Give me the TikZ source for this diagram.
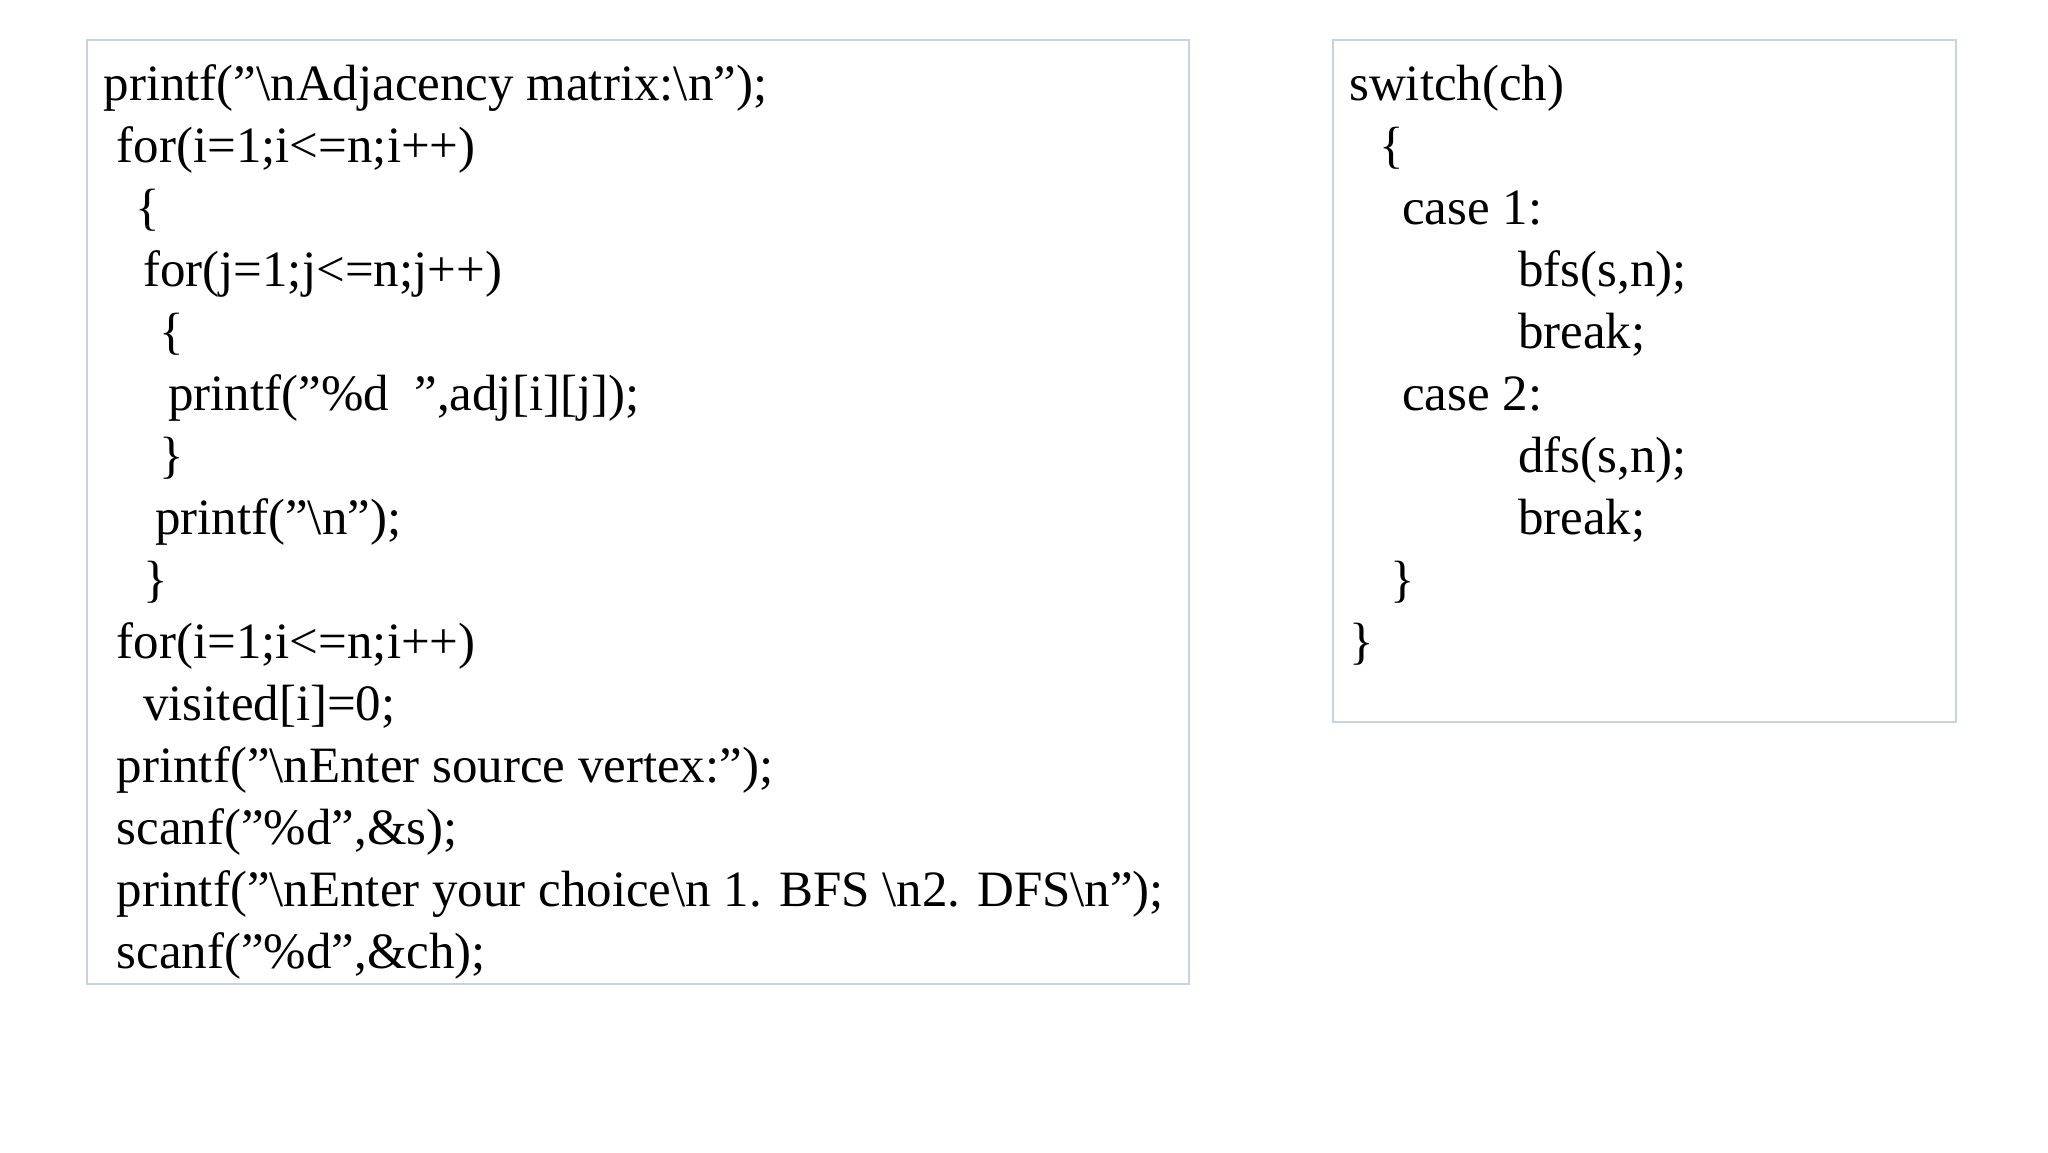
\documentclass[tikz,border=0pt]{standalone}
\usepackage{fontspec}
\setmainfont{Liberation Serif}
\definecolor{boxc}{RGB}{200,210,225}
\tikzset{code/.style={anchor=base west,inner sep=0pt,font=\fontsize{14.5}{17}\selectfont},
 panel/.style={draw=boxc,line width=0.6pt}}
\begin{document}
\begin{tikzpicture}[x=0.013196cm,y=-0.013196cm]
\useasboundingbox[fill=white] (0,0) rectangle (1552,873);
\draw[panel] (66,30) rectangle (901,746);
\draw[panel] (1010,30) rectangle (1482,547);
\def\b#1{#1*47+76}
\node[code] (l1) at (78,76) {printf("\textbackslash nAdjacency matrix:\textbackslash n");};
\node[code] (l2) at (88,123) {for(i=1;i<=n;i++)};
\node[code] (l3) at (102,170) {\{};
\node[code] (l4) at (108,217) {for(j=1;j<=n;j++)};
\node[code] (l5) at (120,264) {\{};
\node[code] (l6) at (127,311) {printf("\%d\ \ ",adj[i][j]);};
\node[code] (l7) at (120,358) {\}};
\node[code] (l8) at (117,405) {printf("\textbackslash n");};
\node[code] (l9) at (108,452) {\}};
\node[code] (l10) at (88,499) {for(i=1;i<=n;i++)};
\node[code] (l11) at (108,546) {visited[i]=0;};
\node[code] (l12) at (88,593) {printf("\textbackslash nEnter source vertex:");};
\node[code] (l13) at (88,640) {scanf("\%d",\&s);};
\node[code] (l14) at (88,687) {printf("\textbackslash nEnter your choice\textbackslash n 1. BFS \textbackslash n2. DFS\textbackslash n");};
\node[code] (l15) at (88,734) {scanf("\%d",\&ch);};
\node[code] (r1) at (1022,76) {switch(ch)};
\node[code] (r2) at (1045,123) {\{};
\node[code] (r3) at (1062,170) {case 1:};
\node[code] (r4) at (1150,217) {bfs(s,n);};
\node[code] (r5) at (1150,264) {break;};
\node[code] (r6) at (1062,311) {case 2:};
\node[code] (r7) at (1150,358) {dfs(s,n);};
\node[code] (r8) at (1150,405) {break;};
\node[code] (r9) at (1053,452) {\}};
\node[code] (r10) at (1022,499) {\}};
\end{tikzpicture}
\end{document}
